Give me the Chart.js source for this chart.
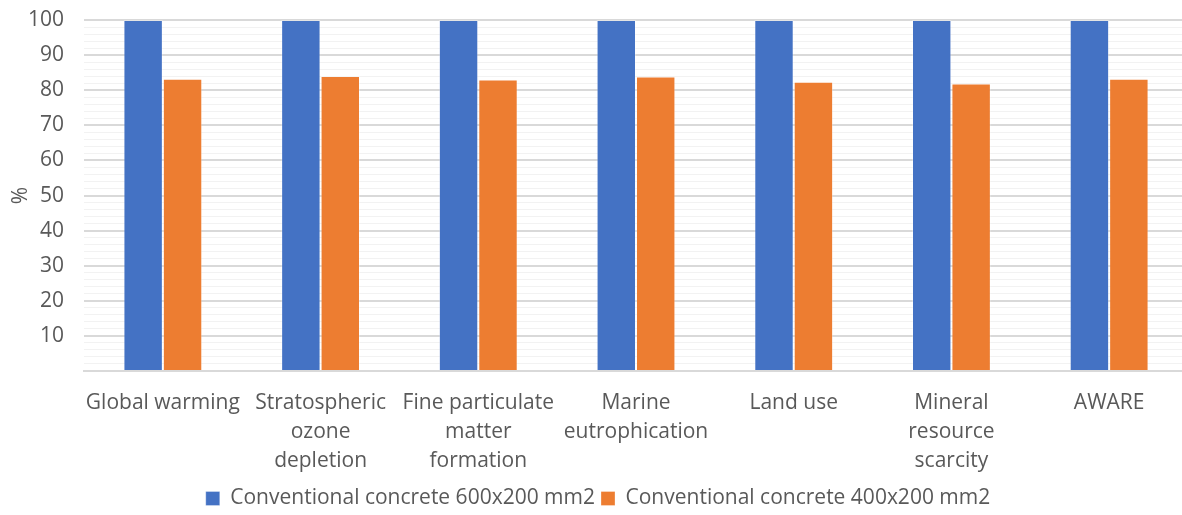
<!DOCTYPE html>
<html>
<head>
<meta charset="utf-8">
<script src="https://cdn.jsdelivr.net/npm/chart.js@4/dist/chart.umd.min.js"></script>
<style>
  html, body { margin: 0; padding: 0; background: #ffffff; overflow: hidden; }
  #wrap { width: 1182px; height: 515px; overflow: hidden; }
</style>
</head>
<body>
<div id="wrap"><canvas id="impactChart" width="1188" height="515"></canvas></div>
<script>
// impact categories (multi-line labels like the original)
const categories = [
  'Global warming',
  ['Stratospheric', 'ozone', 'depletion'],
  ['Fine particulate', 'matter', 'formation'],
  ['Marine', 'eutrophication'],
  'Land use',
  ['Mineral', 'resource', 'scarcity'],
  'AWARE'
];

const seriesNames = ['Conventional concrete 600x200 mm2', 'Conventional concrete 400x200 mm2'];
const concrete600 = [100, 100, 100, 100, 100, 100, 100];
const concrete400 = [83.3, 84.1, 83.1, 83.9, 82.4, 81.9, 83.3];

const yMin = 0;
const yMax = 100;
const yStep = 2;      // minor gridlines every 2 %
const yLabelStep = 10; // labelled every 10 %

const textColor = '#595959';
const fontFamily = '"Open Sans", "Liberation Sans", sans-serif';

const ctx = document.getElementById('impactChart').getContext('2d');

new Chart(ctx, {
  type: 'bar',
  data: {
    labels: categories,
    datasets: [
      {
        label: seriesNames[0],
        data: concrete600,
        backgroundColor: '#4472c4',
        borderColor: 'rgba(255,255,255,0.3)',
        borderWidth: 1,
        categoryPercentage: 0.5,
        barPercentage: 1.0
      },
      {
        label: seriesNames[1],
        data: concrete400,
        backgroundColor: '#ed7d31',
        borderColor: 'rgba(255,255,255,0.3)',
        borderWidth: 1,
        categoryPercentage: 0.5,
        barPercentage: 1.0
      }
    ]
  },
  options: {
    responsive: false,
    animation: false,
    layout: { padding: { top: 0, right: 0, left: 8, bottom: -4 } },
    plugins: {
      legend: {
        display: true,
        position: 'bottom',
        labels: {
          boxWidth: 14,
          boxHeight: 14,
          padding: 6,
          color: textColor,
          font: { family: fontFamily, size: 21 }
        }
      },
      tooltip: { enabled: false }
    },
    scales: {
      x: {
        grid: { display: false, drawTicks: false },
        border: { display: true, color: '#d9d9d9', width: 2 },
        ticks: {
          color: textColor,
          font: { family: fontFamily, size: 21, lineHeight: 1.38 },
          padding: 18,
          maxRotation: 0,
          autoSkip: false
        },
        afterFit: (scale) => { scale.height = 111; }
      },
      y: {
        min: yMin,
        max: yMax,
        border: { display: false },
        grid: {
          drawTicks: false,
          color: (c) => (c.tick && c.tick.value % yLabelStep === 0) ? '#d9d9d9' : '#f2f2f2',
          lineWidth: (c) => (c.tick && c.tick.value % yLabelStep === 0) ? 2 : 1
        },
        ticks: {
          stepSize: yStep,
          autoSkip: false,
          color: textColor,
          // tiny lineHeight so the top label does not push the plot down
          font: { family: fontFamily, size: 21, lineHeight: 0.01 },
          padding: 20,
          callback: (v) => (v !== 0 && v % yLabelStep === 0) ? v : ''
        },
        title: {
          display: true,
          text: '%',
          color: textColor,
          font: { family: fontFamily, size: 21 },
          padding: 0
        },
        afterFit: (scale) => { scale.width = 76; }
      }
    }
  }
});
</script>
</body>
</html>
